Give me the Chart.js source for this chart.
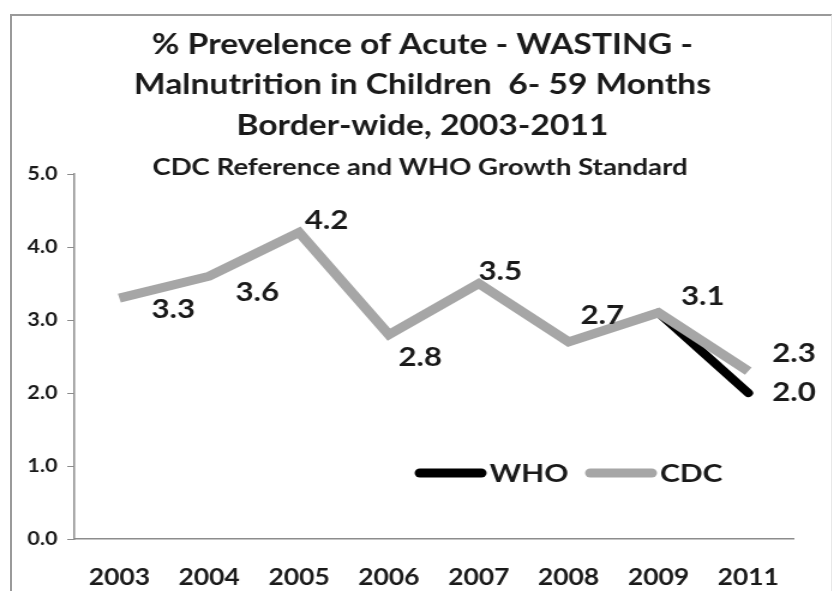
<!DOCTYPE html>
<html>
<head>
<meta charset="utf-8">
<title>Wasting prevalence, border-wide 2003-2011</title>
<script src="https://cdn.jsdelivr.net/npm/chart.js@4.4.1/dist/chart.umd.min.js"></script>
<style>
  html, body { margin: 0; padding: 0; background: #fff; }
  #wrap { position: relative; width: 834px; height: 591px; overflow: hidden; background: #fff; }
  /* the chart is drawn on a 695px-wide canvas and shown 1.2x wider, like the original slide graphic */
  #wrap canvas { position: absolute; left: 0; top: 0; width: 834px; height: 591px; }
  #frame {
    position: absolute; left: 10px; top: 14px; width: 819px; height: 600px;
    border-top: 2px solid #9a9a9a; border-left: 2px solid #9a9a9a; border-right: 1px solid #e8e8e8;
    pointer-events: none;
  }
</style>
</head>
<body>
<div id="wrap">
  <canvas id="chart" width="695" height="591" style="width:834px;height:591px"></canvas>
  <div id="frame"></div>
</div>
<script>
// Survey years (2010 was not surveyed)
const years = ['2003', '2004', '2005', '2006', '2007', '2008', '2009', '2011'];
// % wasting, CDC reference
const cdcValues = [3.3, 3.6, 4.2, 2.8, 3.5, 2.7, 3.1, 2.3];
// % wasting, WHO growth standard (only computed for the last two surveys)
const whoValues = [null, null, null, null, null, null, 3.1, 2.0];
// y axis ticks
const yTicks = [0, 1, 2, 3, 4, 5];

const titleLines = [
  '% Prevelence of Acute - WASTING -',
  'Malnutrition in Children  6- 59 Months',
  'Border-wide, 2003-2011'
];
const subtitleText = 'CDC Reference and WHO Growth Standard';

// hand-placed value labels: [dx, dy] from each point (canvas units), null = no label
const cdcLabelShift = [[45, 12], [40, 16], [23, -12], [26, 23], [18, -12], [28, -26], [37, -16], [38, -17]];
const whoLabelShift = [null, null, null, null, null, null, null, [38, 0]];

const FONT = 'Lato, "Open Sans", sans-serif';
const INK = '#1a1a1a';
const AXIS = '#8c8c8c';

const headingPlugin = {
  id: 'heading',
  afterDraw(chart) {
    const ctx = chart.ctx;
    ctx.save();
    ctx.fillStyle = INK;
    ctx.textAlign = 'center';
    ctx.textBaseline = 'middle';
    ctx.font = 'bold 28px ' + FONT;
    const rows = [45, 85, 126];
    titleLines.forEach((t, i) => ctx.fillText(t, 352, rows[i]));
    ctx.font = 'bold 23px ' + FONT;
    ctx.fillText(subtitleText, 350, 168);
    ctx.restore();
  }
};

const valueLabelPlugin = {
  id: 'valueLabels',
  afterDatasetsDraw(chart) {
    const ctx = chart.ctx;
    ctx.save();
    ctx.fillStyle = INK;
    ctx.textAlign = 'center';
    ctx.textBaseline = 'middle';
    ctx.font = 'bold 26px ' + FONT;
    chart.data.datasets.forEach((ds, di) => {
      const meta = chart.getDatasetMeta(di);
      const shifts = ds.labelShift;
      meta.data.forEach((pt, i) => {
        const v = ds.data[i];
        if (v === null || !shifts[i]) return;
        ctx.fillText(v.toFixed(1), pt.x + shifts[i][0], pt.y + shifts[i][1]);
      });
    });
    ctx.restore();
  }
};

const legendPlugin = {
  id: 'innerLegend',
  afterDraw(chart) {
    const ctx = chart.ctx;
    const y = 473;
    const entries = [
      { ds: chart.data.datasets[0], x: 346 },
      { ds: chart.data.datasets[1], x: 488 }
    ];
    ctx.save();
    entries.forEach(e => {
      ctx.strokeStyle = e.ds.borderColor;
      ctx.lineWidth = 9;
      ctx.lineCap = 'round';
      ctx.beginPath();
      ctx.moveTo(e.x + 4, y);
      ctx.lineTo(e.x + 55, y);
      ctx.stroke();
      ctx.fillStyle = INK;
      ctx.font = 'bold 25px ' + FONT;
      ctx.textAlign = 'left';
      ctx.textBaseline = 'middle';
      ctx.fillText(e.ds.label, e.x + 62, y + 1);
    });
    ctx.restore();
  }
};

new Chart(document.getElementById('chart'), {
  type: 'line',
  data: {
    labels: years,
    datasets: [
      {
        label: 'WHO',
        data: whoValues,
        borderColor: '#000000',
        borderWidth: 8,
        borderCapStyle: 'round',
        pointRadius: 0,
        spanGaps: false,
        order: 1,
        labelShift: whoLabelShift
      },
      {
        label: 'CDC',
        data: cdcValues,
        borderColor: '#a6a6a6',
        borderWidth: 9,
        borderCapStyle: 'butt',
        borderJoinStyle: 'miter',
        pointRadius: 0,
        order: 0,
        labelShift: cdcLabelShift
      }
    ]
  },
  options: {
    responsive: false,
    animation: false,
    devicePixelRatio: 1,
    layout: { padding: { top: 174, right: 34, bottom: 0, left: 0 } },
    plugins: {
      legend: { display: false },
      title: { display: false },
      tooltip: { enabled: false }
    },
    scales: {
      x: {
        type: 'category',
        offset: true,
        grid: { display: false, drawTicks: false },
        border: { display: true, color: AXIS, width: 1.5 },
        ticks: {
          font: { family: FONT, weight: 'bold', size: 22 },
          color: INK,
          padding: 26,
          maxRotation: 0,
          autoSkip: false
        },
        afterFit(scale) { scale.height = 52; }
      },
      y: {
        min: 0,
        max: 5,
        afterBuildTicks(scale) { scale.ticks = yTicks.map(v => ({ value: v })); },
        ticks: {
          callback: v => Number(v).toFixed(1),
          font: { family: FONT, weight: 'bold', size: 18 },
          color: INK,
          padding: 8
        },
        grid: { display: true, drawOnChartArea: false, drawTicks: true, tickLength: 6, color: AXIS },
        border: { display: true, color: AXIS, width: 1.5 },
        afterFit(scale) { scale.width = 62; }
      }
    }
  },
  plugins: [headingPlugin, valueLabelPlugin, legendPlugin]
});
</script>
</body>
</html>
